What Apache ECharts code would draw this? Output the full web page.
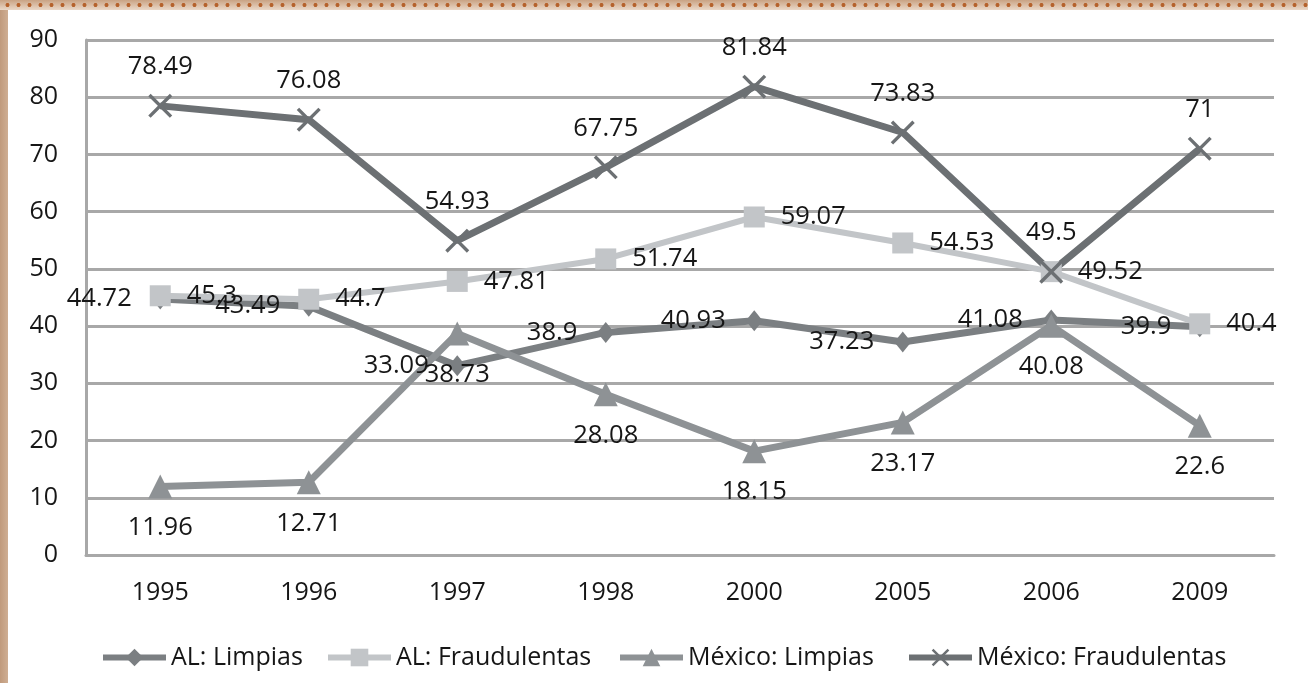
<!DOCTYPE html>
<html>
<head>
<meta charset="utf-8">
<script src="https://cdn.jsdelivr.net/npm/echarts@6/dist/echarts.min.js"></script>
<style>
  html, body { margin: 0; padding: 0; background: #fff; }
  #wrap { position: relative; width: 1308px; height: 683px; overflow: hidden; background: #fff; }
  #chart { position: absolute; left: 0; top: 0; width: 1308px; height: 683px; }
  #topstrip { position: absolute; left: 0; top: 0; width: 1308px; height: 10px;
    background-image: radial-gradient(circle, #b5622c 1.7px, rgba(181,98,44,0) 2.3px), linear-gradient(#c9a384, #ead8c8);
    background-size: 11px 10px, 100% 100%; background-position: 2px 0, 0 0; z-index: 5; }
  #leftstrip { position: absolute; left: 0; top: 0; width: 8px; height: 683px;
    background: linear-gradient(90deg, #c09a7c, #cfae93); z-index: 4; }
</style>
</head>
<body>
<div id="wrap">
  <div id="chart"></div>
  <div id="leftstrip"></div>
  <div id="topstrip"></div>
</div>
<script>
const categories = ['1995', '1996', '1997', '1998', '2000', '2005', '2006', '2009'];
const alLimpias = [44.72, 43.49, 33.09, 38.9, 40.93, 37.23, 41.08, 39.9];
const alFraudulentas = [45.3, 44.7, 47.81, 51.74, 59.07, 54.53, 49.52, 40.4];
const mexLimpias = [11.96, 12.71, 38.73, 28.08, 18.15, 23.17, 40.08, 22.6];
const mexFraudulentas = [78.49, 76.08, 54.93, 67.75, 81.84, 73.83, 49.5, 71];
const seriesNames = ['AL: Limpias', 'AL: Fraudulentas', 'México: Limpias', 'México: Fraudulentas'];

const FONT = "'Open Sans', 'Noto Sans', sans-serif";
const TXT = '#161616';
const xSymbol = 'path://M0,1 L1,0 L10,9 L9,10 Z M9,0 L10,1 L1,10 L0,9 Z';

function mkSeries(name, data, color, symbol, size, pos, dist, lw) {
  return {
    name: name, type: 'line', data: data,
    symbol: symbol, symbolSize: size,
    lineStyle: { color: color, width: lw },
    itemStyle: { color: color },
    label: { show: true, position: pos, distance: dist, color: TXT, fontSize: 25.5, fontFamily: FONT },
    emphasis: { disabled: true },
    animation: false
  };
}

const legendLefts = [100, 325, 617, 906];
const legends = seriesNames.map((n, i) => ({
  data: [n],
  left: legendLefts[i], top: 645, padding: 0,
  itemWidth: 63, itemHeight: 22, itemGap: 0,
  lineStyle: { width: 6 },
  textStyle: { fontSize: 25, fontFamily: FONT, color: TXT }
}));

const chart = echarts.init(document.getElementById('chart'));
chart.setOption({
  backgroundColor: 'transparent',
  animation: false,
  grid: { left: 86, right: 34, top: 40, bottom: 128, containLabel: false },
  legend: legends,
  xAxis: {
    type: 'category', data: categories, boundaryGap: true,
    axisLine: { show: true, lineStyle: { color: '#a8a8a8', width: 3 } },
    axisTick: { show: false },
    axisLabel: { color: TXT, fontSize: 25, fontFamily: FONT, margin: 25 }
  },
  yAxis: {
    type: 'value', min: 0, max: 90, interval: 10,
    axisLine: { show: true, lineStyle: { color: '#a8a8a8', width: 3 } },
    axisTick: { show: false },
    splitLine: { show: true, lineStyle: { color: '#a8a8a8', width: 3 } },
    axisLabel: { color: TXT, fontSize: 25, fontFamily: FONT, margin: 28 }
  },
  series: [
    mkSeries(seriesNames[0], alLimpias, '#7b7f82', 'diamond', [17, 21], 'left', 20, 7),
    mkSeries(seriesNames[1], alFraudulentas, '#c2c5c8', 'rect', 21, 'right', 16, 6),
    mkSeries(seriesNames[2], mexLimpias, '#8e9295', 'triangle', 24, 'bottom', 16, 7),
    mkSeries(seriesNames[3], mexFraudulentas, '#6c7073', xSymbol, 24, 'top', 14, 7)
  ]
});
</script>
</body>
</html>
